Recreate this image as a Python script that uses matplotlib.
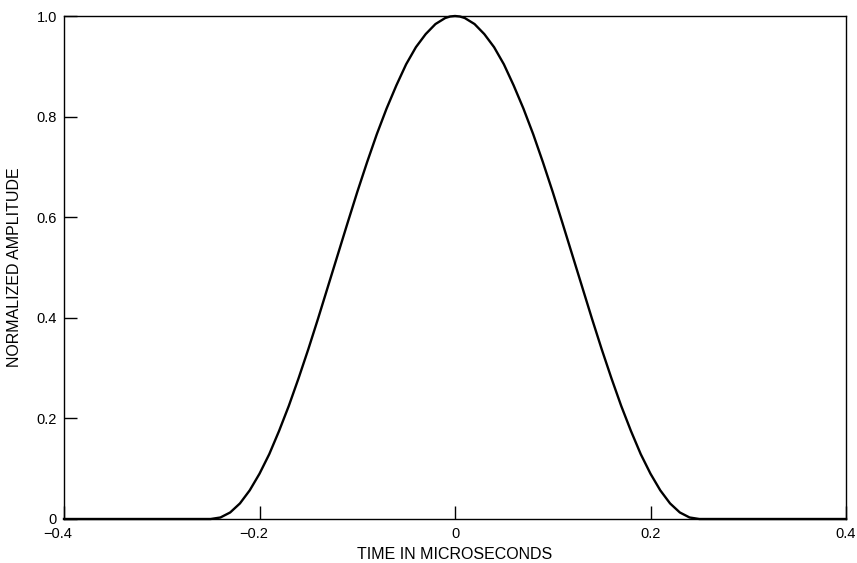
import matplotlib
matplotlib.use("Agg")
import matplotlib.pyplot as plt
from matplotlib.transforms import ScaledTranslation

plt.rcParams['font.family'] = ['Liberation Sans', 'DejaVu Sans']

# Pulse shape: time (microseconds) and normalized amplitude
time_us = [-0.40, -0.25, -0.24, -0.23, -0.22, -0.21, -0.20, -0.19, -0.18, -0.17,
           -0.16, -0.15, -0.14, -0.13, -0.12, -0.11, -0.10, -0.09, -0.08, -0.07,
           -0.06, -0.05, -0.04, -0.03, -0.02, -0.01, -0.005, 0.00, 0.005,
           0.01, 0.02, 0.03, 0.04, 0.05, 0.06, 0.07, 0.08, 0.09, 0.10,
           0.11, 0.12, 0.13, 0.14, 0.15, 0.16, 0.17, 0.18, 0.19, 0.20,
           0.21, 0.22, 0.23, 0.24, 0.25, 0.40]
amplitude = [0.0, 0.0, 0.003, 0.013, 0.031, 0.057, 0.090, 0.129, 0.175, 0.225,
             0.280, 0.338, 0.399, 0.462, 0.525, 0.588, 0.650, 0.709, 0.765, 0.816,
             0.862, 0.904, 0.938, 0.964, 0.984, 0.996, 0.999, 1.000, 0.999,
             0.996, 0.984, 0.964, 0.938, 0.904, 0.862, 0.816, 0.765, 0.709, 0.650,
             0.588, 0.525, 0.462, 0.399, 0.338, 0.280, 0.225, 0.175, 0.129, 0.090,
             0.057, 0.031, 0.013, 0.003, 0.0, 0.0]

x_ticks = [-0.4, -0.2, 0.0, 0.2, 0.4]
x_tick_labels = ['\u22120.4', '\u22120.2', '0', '0.2', '0.4']
y_ticks = [0.0, 0.2, 0.4, 0.6, 0.8, 1.0]
y_tick_labels = ['0', '0.2', '0.4', '0.6', '0.8', '1.0']

fig = plt.figure(figsize=(8.57, 5.63), dpi=100)
ax = fig.add_axes([64 / 857, 44 / 563, 782 / 857, 503 / 563])

ax.plot(time_us, amplitude, color='black', lw=1.7, clip_on=False,
        solid_joinstyle='round', zorder=3)

ax.set_xlim(-0.4, 0.4)
ax.set_ylim(0.0, 1.0)

ax.set_xticks(x_ticks)
ax.set_xticklabels(x_tick_labels)
ax.set_yticks(y_ticks)
ax.set_yticklabels(y_tick_labels)

ax.tick_params(axis='both', direction='in', length=9.5, width=1.0,
               labelsize=10.5, pad=5, color='black')
ax.tick_params(axis='x', pad=5.5)

# keep the digits of negative labels centred on their ticks
shift = ScaledTranslation(-4.5 / 72, 0, fig.dpi_scale_trans)
for lab in ax.get_xticklabels():
    if lab.get_text().startswith('\u2212'):
        lab.set_transform(lab.get_transform() + shift)

for spine in ax.spines.values():
    spine.set_linewidth(1.0)
    spine.set_color('black')

ax.set_xlabel('TIME IN MICROSECONDS', fontsize=11.5)
ax.set_ylabel('NORMALIZED AMPLITUDE', fontsize=11.5)
ax.xaxis.set_label_coords(0.5, -0.056)
ax.yaxis.set_label_coords(-0.054, 0.5)

fig.savefig('out.png', dpi=100)
